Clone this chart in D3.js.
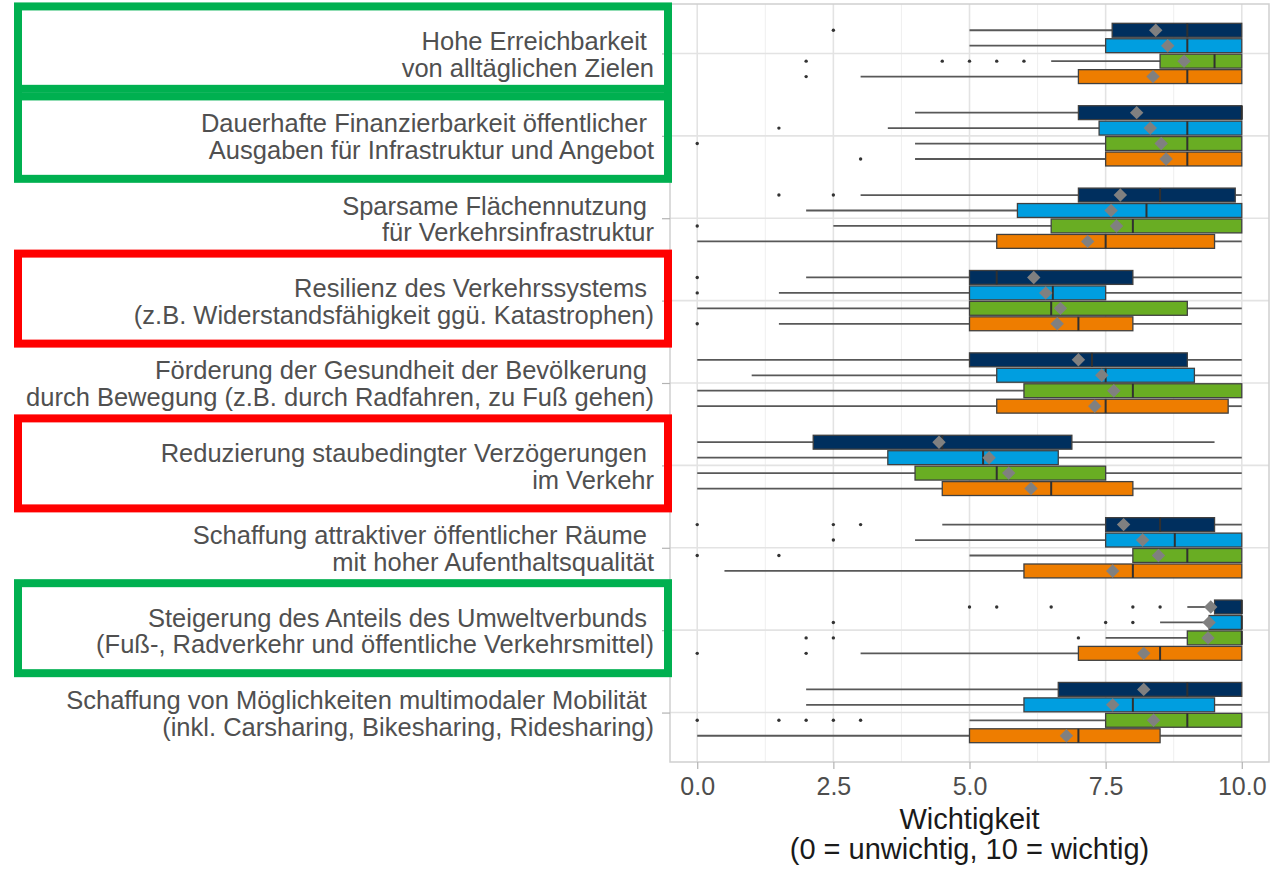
<!DOCTYPE html>
<html>
<head>
<meta charset="utf-8">
<script src="https://d3js.org/d3.v7.min.js"></script>
<style>
  body { margin: 0; background: #fff; }
  text { font-family: 'Liberation Sans', Arial, sans-serif; }
</style>
</head>
<body>
<div id="chart"></div>
<script>
// categories top to bottom, two lines each (first line keeps its trailing space)
const categories = [
  ['Hohe Erreichbarkeit ', 'von alltäglichen Zielen'],
  ['Dauerhafte Finanzierbarkeit öffentlicher ', 'Ausgaben für Infrastruktur und Angebot'],
  ['Sparsame Flächennutzung ', 'für Verkehrsinfrastruktur'],
  ['Resilienz des Verkehrssystems ', '(z.B. Widerstandsfähigkeit ggü. Katastrophen)'],
  ['Förderung der Gesundheit der Bevölkerung ', 'durch Bewegung (z.B. durch Radfahren, zu Fuß gehen)'],
  ['Reduzierung staubedingter Verzögerungen ', 'im Verkehr'],
  ['Schaffung attraktiver öffentlicher Räume ', 'mit hoher Aufenthaltsqualität'],
  ['Steigerung des Anteils des Umweltverbunds ', '(Fuß-, Radverkehr und öffentliche Verkehrsmittel)'],
  ['Schaffung von Möglichkeiten multimodaler Mobilität ', '(inkl. Carsharing, Bikesharing, Ridesharing)']
]

const series = ['Gruppe 1', 'Gruppe 2', 'Gruppe 3', 'Gruppe 4']
const seriesColors = ['#002f5e', '#009ee0', '#69ad23', '#ee7d00']

// one row per category: [whisker low, q1, median, q3, whisker high, mean]
const statsNavy = [
  [5, 7.62, 9, 10, 10, 8.42],
  [4, 7, 10, 10, 10, 8.07],
  [3, 7, 8.5, 9.88, 10, 7.77],
  [2, 5, 5.5, 8, 10, 6.18],
  [0, 5, 7.25, 9, 10, 7.0],
  [0, 2.13, 4.5, 6.88, 9.5, 4.44],
  [4.5, 7.5, 8.5, 9.5, 10, 7.83],
  [9, 9.5, 10, 10, 10, 9.43],
  [2, 6.63, 9, 10, 10, 8.2]
]
const statsBlue = [
  [5, 7.5, 9, 10, 10, 8.64],
  [3.5, 7.38, 9, 10, 10, 8.32],
  [2, 5.88, 8.25, 10, 10, 7.6],
  [1.5, 5, 6.53, 7.5, 10, 6.4],
  [1, 5.5, 7.5, 9.13, 10, 7.43],
  [0, 3.5, 5.25, 6.63, 10, 5.36],
  [4, 7.5, 8.77, 10, 10, 8.18],
  [8.5, 9.4, 10, 10, 10, 9.4],
  [2, 6, 8, 9.5, 10, 7.63]
]
const statsGreen = [
  [6.5, 8.5, 9.5, 10, 10, 8.94],
  [4, 7.5, 9, 10, 10, 8.52],
  [2.5, 6.5, 8, 10, 10, 7.7],
  [0, 5, 6.5, 9, 10, 6.67],
  [0, 6, 8, 10, 10, 7.65],
  [0, 4, 5.5, 7.5, 10, 5.72],
  [5, 8, 9, 10, 10, 8.47],
  [7.5, 9, 10, 10, 10, 9.38],
  [5, 7.5, 9, 10, 10, 8.38]
]
const statsOrange = [
  [3, 7, 9, 10, 10, 8.37],
  [4, 7.5, 9, 10, 10, 8.61],
  [0, 5.5, 7.5, 9.5, 10, 7.17],
  [1.5, 5, 7, 8, 10, 6.61],
  [0, 5.5, 7.5, 9.75, 10, 7.3],
  [0, 4.5, 6.5, 8, 10, 6.13],
  [0.5, 6, 8, 10, 10, 7.63],
  [3, 7, 8.5, 10, 10, 8.2],
  [0, 5, 7, 8.5, 10, 6.78]
]

const outliersNavy = [[2.5], [], [1.5, 2.5], [0], [], [], [0, 2.5, 3], [5, 5.5, 6.5, 8, 8.5], []]
const outliersBlue = [[], [1.5], [], [0], [], [], [2.5], [2.5, 7.5, 8], []]
const outliersGreen = [[2, 4.5, 5, 5.5, 6], [0], [0], [], [], [], [0, 1.5], [2, 2.5, 7], [0, 1.5, 2, 2.5, 3]]
const outliersOrange = [[2], [3], [], [0], [], [], [], [0, 2], []]

const xTicks = [0, 2.5, 5, 7.5, 10]
const xMinor = [1.25, 3.75, 6.25, 8.75]
const axisTitle = ['Wichtigkeit', '(0 = unwichtig, 10 = wichtig)']

// framed labels: category index and frame colour
const frames = [[0, '#00b050'], [1, '#00b050'], [3, '#ff0000'], [5, '#ff0000'], [7, '#00b050']]

const width = 1281, height = 877
const panel = { left: 670, right: 1269, top: 4, bottom: 762 }

const allStats = [statsNavy, statsBlue, statsGreen, statsOrange]
const allOutliers = [outliersNavy, outliersBlue, outliersGreen, outliersOrange]

const svg = d3.select('#chart').append('svg')
  .attr('width', width)
  .attr('height', height)

const x = d3.scaleLinear().domain([-0.5, 10.5]).range([panel.left, panel.right])
const y = d3.scalePoint()
  .domain(d3.range(categories.length))
  .range([panel.top, panel.bottom])
  .padding(0.6)
const dodge = d3.scaleBand()
  .domain(series)
  .range([-y.step() * 0.375, y.step() * 0.375])
const boxH = dodge.bandwidth() * 0.9

// grid
const grid = svg.append('g')
grid.selectAll('.minor').data(xMinor).join('line')
  .attr('x1', d => x(d)).attr('x2', d => x(d))
  .attr('y1', panel.top).attr('y2', panel.bottom)
  .attr('stroke', '#efefef').attr('stroke-width', 1)
grid.selectAll('.majorx').data(xTicks).join('line')
  .attr('x1', d => x(d)).attr('x2', d => x(d))
  .attr('y1', panel.top).attr('y2', panel.bottom)
  .attr('stroke', '#e3e3e3').attr('stroke-width', 1.6)
grid.selectAll('.majory').data(y.domain()).join('line')
  .attr('x1', panel.left).attr('x2', panel.right)
  .attr('y1', d => y(d)).attr('y2', d => y(d))
  .attr('stroke', '#e3e3e3').attr('stroke-width', 1.6)

// flatten to one record per box
const boxes = []
categories.forEach((c, i) => {
  series.forEach((s, j) => {
    const st = allStats[j][i]
    boxes.push({
      cat: i, s: s, color: seriesColors[j],
      lo: st[0], q1: st[1], med: st[2], q3: st[3], hi: st[4], mean: st[5],
      out: allOutliers[j][i],
      yc: y(i) + dodge(s) + dodge.bandwidth() / 2
    })
  })
})

const marks = svg.append('g')
const g = marks.selectAll('g.box').data(boxes).join('g').attr('class', 'box')

// whiskers
g.append('line')
  .attr('x1', d => x(d.lo)).attr('x2', d => x(d.q1))
  .attr('y1', d => d.yc).attr('y2', d => d.yc)
  .attr('stroke', '#585858').attr('stroke-width', 1.8)
g.append('line')
  .attr('x1', d => x(d.q3)).attr('x2', d => x(d.hi))
  .attr('y1', d => d.yc).attr('y2', d => d.yc)
  .attr('stroke', '#585858').attr('stroke-width', 1.8)

// boxes
g.append('rect')
  .attr('x', d => x(d.q1))
  .attr('width', d => x(d.q3) - x(d.q1))
  .attr('y', d => d.yc - boxH / 2)
  .attr('height', boxH)
  .attr('fill', d => d.color)
  .attr('stroke', '#404040').attr('stroke-width', 1.3)

// medians
g.append('line')
  .attr('x1', d => x(d.med)).attr('x2', d => x(d.med))
  .attr('y1', d => d.yc - boxH / 2).attr('y2', d => d.yc + boxH / 2)
  .attr('stroke', '#303030').attr('stroke-width', 2)

// outliers
g.selectAll('circle').data(d => d.out.map(v => ({ v: v, yc: d.yc }))).join('circle')
  .attr('cx', d => x(d.v)).attr('cy', d => d.yc)
  .attr('r', 1.7).attr('fill', '#333')

// means as grey diamonds
const diamond = d3.symbol().type(d3.symbolSquare).size(90)
marks.selectAll('path.mean').data(boxes).join('path')
  .attr('class', 'mean')
  .attr('d', diamond)
  .attr('transform', d => `translate(${x(d.mean)}, ${d.yc}) rotate(45)`)
  .attr('fill', '#808080')

// panel border
svg.append('rect')
  .attr('x', panel.left).attr('y', panel.top)
  .attr('width', panel.right - panel.left).attr('height', panel.bottom - panel.top)
  .attr('fill', 'none').attr('stroke', '#cfcfcf').attr('stroke-width', 1.5)

// x axis
const xAxis = svg.append('g')
  .attr('transform', `translate(0, ${panel.bottom})`)
  .call(d3.axisBottom(x).tickValues(xTicks).tickFormat(d3.format('.1f')).tickSize(7).tickPadding(8))
xAxis.select('.domain').remove()
xAxis.selectAll('line').attr('stroke', '#b3b3b3').attr('stroke-width', 1.2)
xAxis.selectAll('text')
  .attr('fill', '#4d4d4d')
  .style('font-size', '25px')

// y axis with two-line labels
const yAxis = svg.append('g')
  .attr('transform', `translate(${panel.left}, 0)`)
  .call(d3.axisLeft(y).tickSize(8).tickPadding(8).tickFormat(''))
yAxis.select('.domain').remove()
yAxis.selectAll('line').attr('stroke', '#b3b3b3').attr('stroke-width', 1.2)
yAxis.selectAll('.tick text')
  .attr('dy', null)
  .attr('fill', '#505050')
  .style('font-size', '25.5px')
  .style('white-space', 'pre')
  .each(function (d) {
    const t = d3.select(this)
    const xPos = t.attr('x')
    categories[d].forEach((line, k) => {
      t.append('tspan')
        .attr('x', xPos)
        .attr('dy', k === 0 ? '-0.16em' : '1.05em')
        .text(line)
    })
  })

// axis title
const title = svg.append('text')
  .attr('x', (panel.left + panel.right) / 2)
  .attr('y', 829)
  .attr('text-anchor', 'middle')
  .attr('fill', '#1a1a1a')
  .style('font-size', '29px')
title.selectAll('tspan').data(axisTitle).join('tspan')
  .attr('x', (panel.left + panel.right) / 2)
  .attr('dy', (d, i) => i === 0 ? 0 : '1.02em')
  .text(d => d)

// coloured frames around selected labels
svg.append('g').selectAll('rect').data(frames).join('rect')
  .attr('x', 18)
  .attr('y', d => y(d[0]) - 47)
  .attr('width', 650)
  .attr('height', 90)
  .attr('fill', 'none')
  .attr('stroke', d => d[1])
  .attr('stroke-width', 8)
</script>
</body>
</html>
